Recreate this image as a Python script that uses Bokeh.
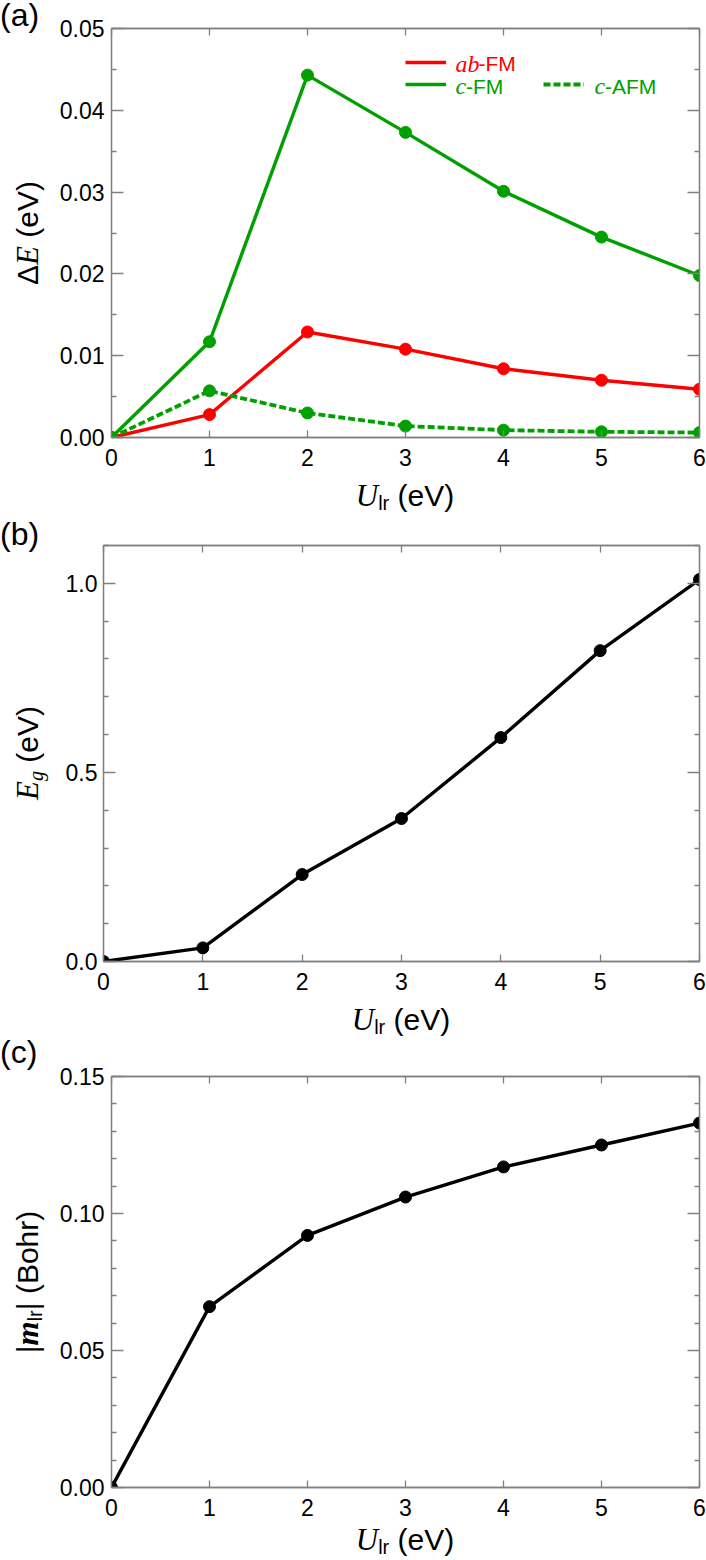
from bokeh.plotting import figure
from bokeh.layouts import column, row
from bokeh.models import (Range1d, FixedTicker, LinearAxis, NumeralTickFormatter,
                          CustomJSTickFormatter, Label, Legend, LegendItem, Div)
from bokeh.embed import file_html
from bokeh.resources import INLINE

# ---------------- data ----------------
u_lr = [0, 1, 2, 3, 4, 5, 6]
de_ab_fm = [0.0, 0.0028, 0.0129, 0.0108, 0.0084, 0.0070, 0.0059]
de_c_fm = [0.0, 0.0117, 0.0443, 0.0373, 0.0301, 0.0245, 0.0198]
de_c_afm = [0.0, 0.0057, 0.0030, 0.0014, 0.0009, 0.0007, 0.0006]
e_gap = [0.0, 0.036, 0.23, 0.378, 0.592, 0.822, 1.01]
m_lr = [0.0, 0.066, 0.092, 0.106, 0.117, 0.125, 0.133]

x_ticks = [0, 1, 2, 3, 4, 5, 6]
a_ticks = [0.0, 0.01, 0.02, 0.03, 0.04, 0.05]
a_minor = [0.005, 0.015, 0.025, 0.035, 0.045]
b_ticks = [0.0, 0.5, 1.0]
b_minor = [0.1, 0.2, 0.3, 0.4, 0.6, 0.7, 0.8, 0.9, 1.1]
c_ticks = [0.0, 0.05, 0.10, 0.15]
c_minor = [0.01, 0.02, 0.03, 0.04, 0.06, 0.07, 0.08, 0.09, 0.11, 0.12, 0.13, 0.14]

# ---------------- style ----------------
GREY = "#808080"
RED = "#ff0000"
GREEN = "#00a000"
SANS = "Liberation Sans"
SERIF = "Liberation Serif"
TICK_PX = 23
SANS_CSS = "font-family:'Liberation Sans',Arial,sans-serif;"
SERIF_CSS = "font-family:'Liberation Serif','Times New Roman',serif;"
LEFT_W = 50          # width of the text column left of each plot
PAGE_W = 706

blank = CustomJSTickFormatter(code="return ''")


def style_axis(ax, major_in, labels=True, standoff=8):
    ax.major_tick_in = major_in
    ax.major_tick_out = 0
    ax.minor_tick_in = 5
    ax.minor_tick_out = 0
    ax.axis_line_color = GREY
    ax.axis_line_width = 1.3
    ax.major_tick_line_color = GREY
    ax.major_tick_line_width = 1.3
    ax.minor_tick_line_color = GREY
    ax.minor_tick_line_width = 1.3
    if labels:
        ax.major_label_text_font = SANS
        ax.major_label_text_font_size = f"{TICK_PX}px"
        ax.major_label_text_color = "black"
        ax.major_label_standoff = standoff
    else:
        ax.formatter = blank
        ax.major_label_text_font_size = "0px"
        ax.major_label_standoff = 0


def make_fig(height, b_left, b_top, b_bottom, ymax, yticks, yminor, yfmt, ystand):
    p = figure(width=PAGE_W - LEFT_W, height=height, x_range=Range1d(0, 6),
               y_range=Range1d(0, ymax), output_backend="svg",
               toolbar_location=None, tools="",
               min_border_left=b_left, min_border_right=7,
               min_border_top=b_top, min_border_bottom=b_bottom)
    p.grid.visible = False
    p.outline_line_color = GREY
    p.outline_line_width = 1.3
    p.background_fill_color = "white"
    p.border_fill_color = "white"
    xt = FixedTicker(ticks=x_ticks, minor_ticks=[])
    yt = FixedTicker(ticks=yticks, minor_ticks=yminor)
    bottom = p.below[0]
    left = p.left[0]
    bottom.ticker = xt
    left.ticker = yt
    left.formatter = NumeralTickFormatter(format=yfmt)
    style_axis(bottom, 7, True, 11)
    style_axis(left, 12, True, ystand)
    top = LinearAxis(ticker=xt)
    right = LinearAxis(ticker=yt)
    style_axis(top, 7, False)
    style_axis(right, 12, False)
    p.add_layout(top, "above")
    p.add_layout(right, "right")
    return p


def series(p, y, color, dash="solid", width=3.4):
    r = p.line(u_lr, y, line_color=color, line_width=width, line_dash=dash)
    p.scatter(u_lr, y, size=12, fill_color=color, line_color=color)
    return r


def legend_key(p, renderer, dx, dy_center):
    leg = Legend(items=[LegendItem(label=" ", renderers=[renderer])],
                 location=(dx, dy_center - 10), orientation="vertical",
                 glyph_width=41, glyph_height=20, label_width=1, label_height=20,
                 label_standoff=0, padding=0, margin=0, spacing=0,
                 border_line_alpha=0, background_fill_alpha=0,
                 label_text_font_size="1px")
    p.add_layout(leg)


def legend_text(p, dx, dy, text, family, style, size, color):
    p.add_layout(Label(x=0, y=0, x_offset=dx, y_offset=dy, text=text,
                       text_font=family, text_font_style=style,
                       text_font_size=f"{size}px", text_color=color,
                       text_align="left", text_baseline="middle"))


def box_div(width, height, inner):
    html = (f'<div style="position:relative;width:{width}px;height:{height}px;'
            f'margin:0;padding:0;">{inner}</div>')
    return Div(text=html, width=width, height=height, margin=(0, 0, 0, 0))


def panel_tag(tag, top):
    return (f'<span style="position:absolute;left:0px;top:{top}px;line-height:1;'
            f'white-space:nowrap;{SANS_CSS}font-size:32px;color:#000;">({tag})</span>')


def y_title(inner_html, cx, cy):
    return (f'<span style="position:absolute;left:{cx}px;top:{cy}px;line-height:1;'
            f'white-space:nowrap;transform:translate(-50%,-50%) rotate(-90deg);'
            f'{SANS_CSS}font-size:30px;color:#000;">{inner_html}</span>')


X_TITLE_HTML = (f'<i style="{SERIF_CSS}font-size:31px;">U</i>'
                f'<span style="font-size:20px;position:relative;top:4px;">lr</span>'
                f'&nbsp;(eV)')


def x_title_div(height, cx, top):
    inner = (f'<span style="position:absolute;left:{cx}px;top:{top}px;line-height:1;'
             f'white-space:nowrap;transform:translateX(-50%);'
             f'{SANS_CSS}font-size:30px;color:#000;">{X_TITLE_HTML}</span>')
    return box_div(PAGE_W, height, inner)


# ---------------- panel (a) ----------------
pa = make_fig(477, 61, 28, 40, 0.05, a_ticks, a_minor, "0.00", 7)
ra = series(pa, de_ab_fm, RED)
rc = series(pa, de_c_fm, GREEN)
rf = series(pa, de_c_afm, GREEN, "7 3", 3.8)
legend_key(pa, ra, 294, 375)
legend_key(pa, rc, 294, 353)
legend_key(pa, rf, 432, 353)
legend_text(pa, 344, 373.7, "ab", SERIF, "italic", 24, RED)
legend_text(pa, 367, 373.7, "-FM", SANS, "normal", 21, RED)
legend_text(pa, 344, 351.3, "c", SERIF, "italic", 24, GREEN)
legend_text(pa, 354.5, 351.3, "-FM", SANS, "normal", 21, GREEN)
legend_text(pa, 483, 351.3, "c", SERIF, "italic", 24, GREEN)
legend_text(pa, 493.5, 351.3, "-AFM", SANS, "normal", 21, GREEN)

left_a = box_div(LEFT_W, 477, panel_tag("a", -1) + y_title(
    f'Δ<i style="{SERIF_CSS}font-size:31px;">E</i>&nbsp;(eV)', 27, 232.5))
xa = x_title_div(38, 405, 3)

# ---------------- panel (b) ----------------
pb = make_fig(486, 53, 30, 40, 1.1, b_ticks, b_minor, "0.0", 6)
series(pb, e_gap, "black")
left_b = box_div(LEFT_W, 486, panel_tag("b", 2.9) + y_title(
    f'<i style="{SERIF_CSS}font-size:31px;">E</i>'
    f'<i style="{SERIF_CSS}font-size:20px;position:relative;top:5px;">g</i>&nbsp;(eV)',
    27, 238))
xb = x_title_div(39, 401, 3)

# ---------------- panel (c) ----------------
pc = make_fig(487, 61, 36, 40, 0.15, c_ticks, c_minor, "0.00", 7)
series(pc, m_lr, "black")
left_c = box_div(LEFT_W, 487, panel_tag("c", -3.9) + y_title(
    f'|<b><i style="{SERIF_CSS}font-size:31px;">m</i></b>'
    f'<span style="font-size:20px;position:relative;top:4px;">lr</span>|&nbsp;(Bohr)',
    27, 241.5))
xc = x_title_div(32, 405, -3)

layout = column(row(left_a, pa), xa, row(left_b, pb), xb, row(left_c, pc), xc)
open("out.html", "w").write(file_html(layout, INLINE))
